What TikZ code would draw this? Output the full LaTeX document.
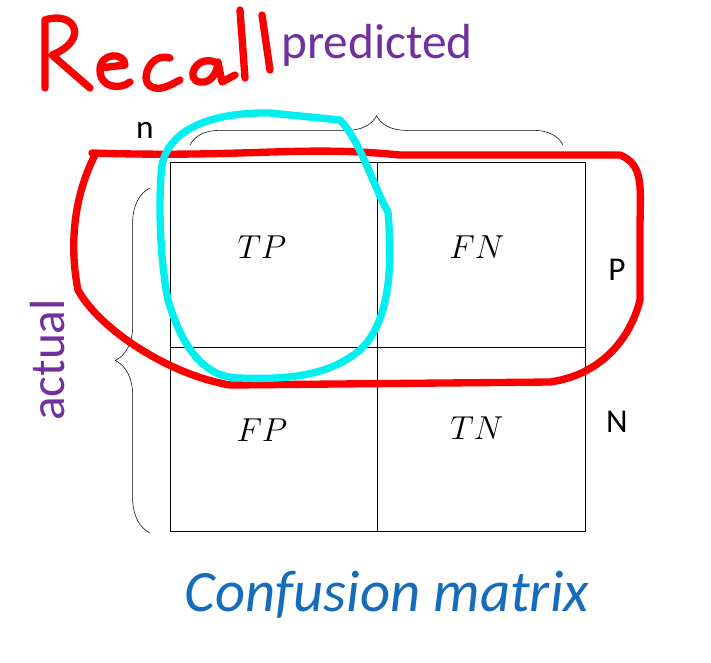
\documentclass[tikz,border=0pt]{standalone}
\usepackage{fontspec}
\setmainfont{Carlito}
\usepackage{amsmath}
\usetikzlibrary{decorations.pathreplacing}
\definecolor{purp}{RGB}{112,48,160}
\definecolor{cmblue}{RGB}{22,108,188}
\definecolor{cyanpen}{RGB}{0,240,240}
\definecolor{redpen}{RGB}{250,0,0}
\tikzset{
  lab/.style={font=\fontsize{25}{29}\selectfont},
  mth/.style={font=\fontsize{23}{27}\selectfont},
  pen/.style={line width=5.5pt,line cap=round,line join=round}}
\begin{document}
\begin{tikzpicture}[x=0.75pt,y=-0.75pt]
\useasboundingbox[fill=white] (0,0) rectangle (711,662);
% grid
\draw[thin] (170,162) rectangle (585,531);
\draw[thin] (377,162) -- (377,531);
\draw[thin] (170,347) -- (585,347);
\node[mth] (tp) at (262,247) {$TP$};
\node[mth] (fn) at (477,247) {$FN$};
\node[mth] (fp) at (262,430) {$FP$};
\node[mth] (tn) at (477,428) {$TN$};
\node[lab] (P) at (617,270) {P};
\node[lab] (N) at (617,422) {N};
\node[lab] (n) at (145,130) {n};
\node[text=purp,font=\fontsize{37}{42}\selectfont] (pred) at (377,45) {predicted};
\node[text=purp,rotate=90,font=\fontsize{37}{42}\selectfont] (act) at (48,360) {actual};
\node[text=cmblue,font=\itshape\fontsize{44}{50}\selectfont] (cm) at (387,595) {Confusion matrix};
% braces
\draw[thin,decorate,decoration={brace,amplitude=22pt}] (190,145) -- (563,145);
\draw[thin,decorate,decoration={brace,amplitude=26pt}] (150,533) -- (150,188);
% red loop
\draw[pen,redpen] (92,153) .. controls (250,158) and (300,145) .. (400,155)
  -- (620,155) .. controls (645,165) and (640,190) .. (640,230)
  -- (640,300) .. controls (630,340) and (600,375) .. (550,382)
  -- (230,385) .. controls (170,375) and (100,330) .. (78,290)
  .. controls (70,250) and (72,200) .. (95,155);
% cyan loop
\draw[pen,cyanpen] (162,165) .. controls (170,125) and (220,112) .. (270,113)
  -- (340,120) .. controls (360,140) and (375,190) .. (388,212)
  .. controls (392,260) and (392,320) .. (360,350)
  .. controls (330,375) and (290,380) .. (240,378)
  .. controls (200,378) and (180,340) .. (168,300)
  .. controls (160,260) and (158,200) .. (162,165);
% Recall handwriting
\draw[pen,redpen] (45,88) -- (45,20) .. controls (75,10) and (90,40) .. (52,55) -- (90,88);
\draw[pen,redpen] (100,68) -- (125,65) .. controls (125,52) and (100,52) .. (100,70) .. controls (100,88) and (120,90) .. (130,82);
\draw[pen,redpen] (170,58) .. controls (150,52) and (140,80) .. (150,86) .. controls (160,92) and (170,85) .. (180,80);
\draw[pen,redpen] (215,62) .. controls (195,55) and (185,80) .. (200,82) .. controls (212,84) and (218,70) .. (218,62) -- (222,82) -- (235,75);
\draw[pen,redpen] (240,10) -- (245,78);
\draw[pen,redpen] (262,15) -- (270,70);
\end{tikzpicture}
\end{document}
